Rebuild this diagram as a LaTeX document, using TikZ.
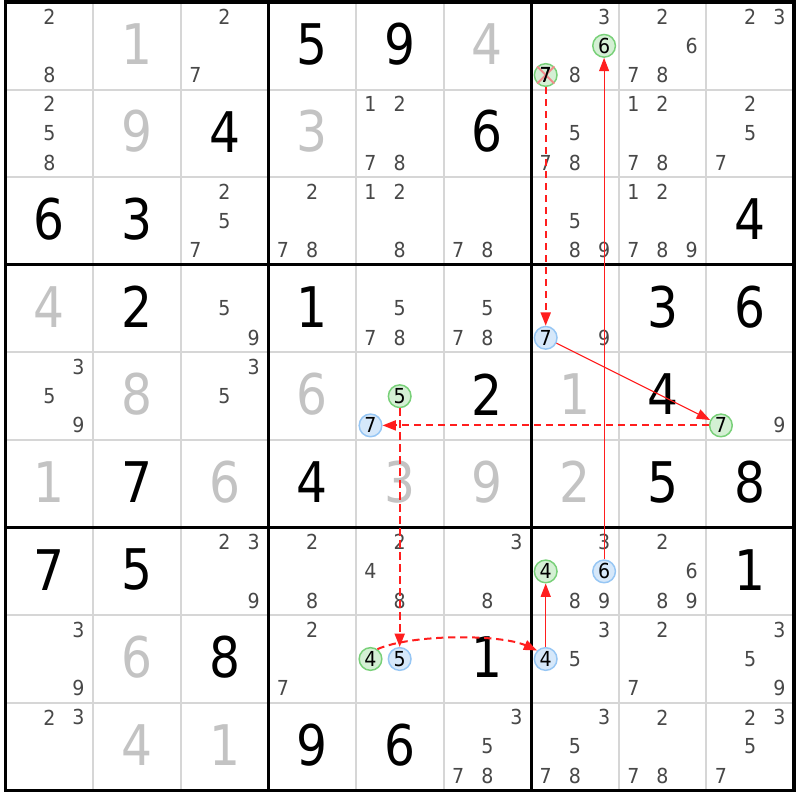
\documentclass[tikz,border=0pt]{standalone}
\usepackage{fontspec}
\setmainfont{DejaVu Sans}
\newfontfamily\bigfont{DejaVu Sans}[FakeStretch=0.87]
\newfontfamily\smfont{DejaVu Sans}[FakeStretch=0.92]
\usetikzlibrary{arrows.meta}
\definecolor{candc}{RGB}{72,72,72}
\definecolor{solvc}{RGB}{195,195,195}
\definecolor{thinc}{RGB}{214,214,214}
\definecolor{gfill}{RGB}{212,240,212}
\definecolor{gdraw}{RGB}{120,208,120}
\definecolor{bfill}{RGB}{214,232,250}
\definecolor{bdraw}{RGB}{150,198,244}
\definecolor{lnkred}{RGB}{255,30,30}
\definecolor{xred}{RGB}{240,140,140}
\newcommand\cands[3]{\foreach \d in {#3}{\node[cand] (k#1#2\d) at ({5.5+87.6*#2+14.6+29.2*mod(\d-1,3)},{2+87.6*#1+14.6+29.2*div(\d-1,3)}) {\d};}}
\newcommand\givn[3]{\node[bigd] (d#1#2) at ({5.5+87.6*#2+43.8},{2+87.6*#1+42}) {#3};}
\newcommand\solv[3]{\node[bigd,text=solvc] (d#1#2) at ({5.5+87.6*#2+43.8},{2+87.6*#1+42}) {#3};}
\newcommand\hilite[5]{\node[#5] (#1) at ({5.5+87.6*#3+14.6+29.2*mod(#4-1,3)},{2+87.6*#2+14.6+29.2*div(#4-1,3)}) {#4};}
\tikzset{
  cand/.style={inner sep=0pt, text=candc, font=\smfont\fontsize{15.5}{15.5}\selectfont},
  bigd/.style={inner sep=0pt, text=black, font=\bigfont\fontsize{42}{42}\selectfont},
  gcirc/.style={circle, inner sep=0pt, minimum size=17pt, draw=gdraw, fill=gfill, line width=1.1pt, text=black, font=\smfont\fontsize{15.5}{15.5}\selectfont},
  bcirc/.style={gcirc, draw=bdraw, fill=bfill},
  lnk/.style={draw=lnkred, line width=0.9pt, -{Triangle[length=10pt,width=7.5pt,fill=lnkred]}},
  dlnk/.style={lnk, line width=1.5pt, dash pattern=on 5.5pt off 3.5pt},
}
\begin{document}
\begin{tikzpicture}[x=0.75pt,y=-0.75pt]
\useasboundingbox (0,0) rectangle (800,800);
\fill[white] (0,0) rectangle (800,800);
% grid
\foreach \i in {1,2,4,5,7,8}{
  \draw[thinc, line width=1.5pt] ({5.5+87.6*\i},2) -- ({5.5+87.6*\i},790.4);
  \draw[thinc, line width=1.5pt] (5.5,{2+87.6*\i}) -- (793.9,{2+87.6*\i});
}
\foreach \i in {3,6}{
  \draw[black, line width=2.4pt] ({5.5+87.6*\i},2) -- ({5.5+87.6*\i},790.4);
  \draw[black, line width=2.4pt] (5.5,{2+87.6*\i}) -- (793.9,{2+87.6*\i});
}
\draw[black, line width=2.4pt] (5.5,2) rectangle (793.9,790.4);
% row 0
\cands{0}{0}{2,8}\solv{0}{1}{1}\cands{0}{2}{2,7}\givn{0}{3}{5}\givn{0}{4}{9}\solv{0}{5}{4}
\cands{0}{6}{3,8}\cands{0}{7}{2,6,7,8}\cands{0}{8}{2,3}
% row 1
\cands{1}{0}{2,5,8}\solv{1}{1}{9}\givn{1}{2}{4}\solv{1}{3}{3}\cands{1}{4}{1,2,7,8}\givn{1}{5}{6}
\cands{1}{6}{5,7,8}\cands{1}{7}{1,2,7,8}\cands{1}{8}{2,5,7}
% row 2
\givn{2}{0}{6}\givn{2}{1}{3}\cands{2}{2}{2,5,7}\cands{2}{3}{2,7,8}\cands{2}{4}{1,2,8}\cands{2}{5}{7,8}
\cands{2}{6}{5,8,9}\cands{2}{7}{1,2,7,8,9}\givn{2}{8}{4}
% row 3
\solv{3}{0}{4}\givn{3}{1}{2}\cands{3}{2}{5,9}\givn{3}{3}{1}\cands{3}{4}{5,7,8}\cands{3}{5}{5,7,8}
\cands{3}{6}{9}\givn{3}{7}{3}\givn{3}{8}{6}
% row 4
\cands{4}{0}{3,5,9}\solv{4}{1}{8}\cands{4}{2}{3,5}\solv{4}{3}{6}\givn{4}{5}{2}\solv{4}{6}{1}\givn{4}{7}{4}
\cands{4}{8}{9}
% row 5
\solv{5}{0}{1}\givn{5}{1}{7}\solv{5}{2}{6}\givn{5}{3}{4}\solv{5}{4}{3}\solv{5}{5}{9}\solv{5}{6}{2}\givn{5}{7}{5}\givn{5}{8}{8}
% row 6
\givn{6}{0}{7}\givn{6}{1}{5}\cands{6}{2}{2,3,9}\cands{6}{3}{2,8}\cands{6}{4}{2,4,8}\cands{6}{5}{3,8}
\cands{6}{6}{3,8,9}\cands{6}{7}{2,6,8,9}\givn{6}{8}{1}
% row 7
\cands{7}{0}{3,9}\solv{7}{1}{6}\givn{7}{2}{8}\cands{7}{3}{2,7}\givn{7}{5}{1}\cands{7}{6}{3,5}\cands{7}{7}{2,7}\cands{7}{8}{3,5,9}
% row 8
\cands{8}{0}{2,3}\solv{8}{1}{4}\solv{8}{2}{1}\givn{8}{3}{9}\givn{8}{4}{6}\cands{8}{5}{3,5,7,8}\cands{8}{6}{3,5,7,8}
\cands{8}{7}{2,7,8}\cands{8}{8}{2,3,5,7}
% marked candidates
\hilite{gA}{0}{6}{6}{gcirc}
\hilite{gX}{0}{6}{7}{gcirc}
\hilite{bB}{3}{6}{7}{bcirc}
\hilite{gC}{4}{8}{7}{gcirc}
\hilite{bD}{4}{4}{7}{bcirc}
\hilite{gE}{4}{4}{5}{gcirc}
\hilite{bF}{7}{4}{5}{bcirc}
\hilite{gG}{7}{4}{4}{gcirc}
\hilite{bH}{7}{6}{4}{bcirc}
\hilite{gI}{6}{6}{4}{gcirc}
\hilite{bJ}{6}{6}{6}{bcirc}
\draw[xred, line width=1.4pt] (gX.north west) -- (gX.south east) (gX.north east) -- (gX.south west);
\node[inner sep=0pt, text=black, font=\smfont\fontsize{15.5}{15.5}\selectfont] (gXt) at (gX) {7};
% links
\draw[dlnk] (gX) -- (bB);
\draw[lnk] (bB) -- (gC);
\draw[dlnk] (gC) -- (bD);
\draw[dlnk] (gE) -- (bF);
\draw[dlnk] (gG.55) .. controls (412,634) and (500,634) .. (bH.135);
\draw[lnk] (bH) -- (gI);
\draw[lnk] (bJ) -- (gA);
\end{tikzpicture}
\end{document}
